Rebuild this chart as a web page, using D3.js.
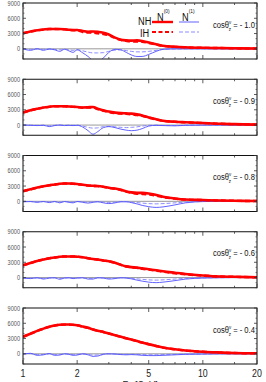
<!DOCTYPE html>
<html lang="en">
	<head>
		<meta charset="utf-8">
		<title>N0 and N1 versus energy</title>

		<script src="https://cdnjs.cloudflare.com/ajax/libs/d3/7.8.5/d3.min.js"></script>

		<style type="text/css">
			html, body {
				margin: 0;
				padding: 0;
				background: white;
			}

			#chart {
				position: absolute;
				left: 0px;
				top: 0px;
			}

			text {
				font-family: "Liberation Sans", Arial, sans-serif;
			}
		</style>
	</head>
	<body>

		<svg id="chart" width="266" height="382"></svg>

		<script type="text/javascript">

			//---------------------------------------------
			// data
			//---------------------------------------------
			var energy = [1, 1.1, 1.2, 1.3, 1.4, 1.5, 1.6, 1.7, 1.8, 1.9, 2.0, 2.15, 2.3, 2.45, 2.6, 2.8, 3.0, 3.25, 3.5, 3.75, 4.0, 4.3, 4.6, 5.0, 5.5, 6, 7, 8, 10, 12.5, 15, 20];

			var cos_labels = ["- 1.0", "- 0.9", "- 0.8", "- 0.6", "- 0.4"];

			var y_ticks = [0, 3000, 6000, 9000];
			var x_ticks = [1, 2, 5, 10, 20];

			// cos = -1.0
			var nh0_a = [3050,3400,3650,3800,3900,3900,3900,3850,3750,3700,3700,3500,3350,3400,3350,3150,2800,2200,1800,1650,1600,1650,1550,1250,900,600,400,300,200,150,100,60];
			var ih0_a = [3050,3380,3630,3780,3880,3880,3870,3820,3720,3660,3620,3300,3200,3150,3050,2900,2650,2150,1750,1550,1450,1450,1400,1150,850,580,390,290,200,150,100,60];
			var nh1_a = [0,-300,0,-300,-50,-200,-500,-100,-400,-700,-200,-800,-1500,-2300,-2500,-1800,-700,-100,-200,-700,-1200,-1500,-1500,-1100,-500,-100,0,0,0,0,0,0];
			var ih1_a = [0,-100,0,-100,0,-100,-200,-50,-200,-300,-150,-400,-650,-800,-800,-750,-500,-250,-200,-350,-500,-600,-600,-500,-300,-100,-30,0,0,0,0,0];

			// cos = -0.9
			var nh0_b = [2450,2900,3200,3450,3600,3700,3700,3700,3650,3600,3550,3450,3500,3550,3200,2900,2650,2450,2350,2300,2250,2100,1900,1500,1150,850,650,550,400,250,180,80];
			var ih0_b = [2450,2880,3180,3430,3580,3680,3680,3680,3630,3580,3520,3400,3430,3450,3120,2820,2550,2350,2250,2200,2100,1950,1800,1450,1100,830,640,540,400,250,180,80];
			var nh1_b = [0,-50,-100,-50,-300,-100,0,-100,-50,-100,-50,-400,-1100,-1800,-1300,-500,-300,-500,-800,-1000,-1100,-1000,-700,-200,-50,-100,-150,-50,0,0,0,0];
			var ih1_b = [0,-30,-50,-30,-150,-50,0,-50,-30,-50,-30,-200,-450,-600,-550,-300,-250,-350,-450,-500,-450,-350,-200,-50,-30,-80,-100,-30,0,0,0,0];

			// cos = -0.8
			var nh0_c = [2000,2350,2700,2950,3150,3300,3450,3500,3500,3450,3400,3250,3100,3050,3000,2850,2650,2500,2250,1950,1750,1650,1650,1550,1250,900,550,350,250,150,100,50];
			var ih0_c = [2000,2340,2690,2940,3140,3290,3440,3490,3490,3440,3380,3230,3080,3030,2980,2830,2630,2470,2220,1920,1700,1500,1450,1350,1100,820,520,340,250,150,100,50];
			var nh1_c = [-100,-50,-200,-50,-250,-50,-300,-50,-200,-300,-50,-200,-350,-200,-100,-300,-450,-300,-100,-100,-250,-500,-800,-1050,-1200,-1100,-700,-300,-50,0,0,0];
			var ih1_c = [-50,-30,-100,-30,-120,-30,-150,-30,-100,-150,-30,-100,-170,-100,-50,-150,-220,-150,-50,-50,-150,-250,-350,-450,-500,-450,-300,-150,-30,0,0,0];

			// cos = -0.6
			var nh0_d = [2400,2850,3250,3550,3800,3950,4100,4150,4150,4150,4100,4000,3800,3650,3550,3350,3200,2900,2500,2200,2050,1950,1800,1650,1450,1250,950,700,400,200,150,50];
			var ih0_d = [2400,2840,3240,3540,3790,3940,4090,4140,4140,4140,4090,3990,3790,3640,3540,3340,3180,2880,2480,2180,2020,1900,1700,1550,1350,1150,850,650,380,200,150,50];
			var nh1_d = [-100,-200,-50,-300,-100,-50,-350,-100,-50,-200,-100,-50,-300,-300,-50,-100,-300,-200,-50,-100,-250,-500,-700,-900,-1000,-900,-600,-300,-100,-30,0,0];
			var ih1_d = [-50,-100,-30,-150,-50,-30,-170,-50,-30,-100,-50,-30,-150,-150,-30,-50,-150,-100,-30,-50,-120,-250,-350,-450,-500,-450,-300,-150,-50,-20,0,0];

			// cos = -0.4
			var nh0_e = [3350,3950,4500,4950,5300,5550,5700,5750,5750,5700,5600,5350,5100,4800,4550,4300,4000,3650,3350,3050,2800,2500,2200,1900,1550,1250,900,650,400,250,150,100];
			var ih0_e = [3340,3940,4490,4940,5290,5540,5690,5740,5740,5690,5590,5340,5090,4790,4540,4290,3990,3640,3340,3040,2790,2490,2190,1880,1530,1230,890,640,400,250,150,100];
			var nh1_e = [-50,100,-300,-200,50,-300,-250,0,-100,-300,-250,0,-200,-500,-450,-100,0,-50,-150,-200,-150,-200,-300,-350,-350,-300,-200,-100,-50,0,0,0];
			var ih1_e = [-30,50,-150,-100,30,-150,-120,0,-50,-150,-120,0,-100,-250,-220,-50,0,-30,-80,-100,-80,-100,-150,-180,-180,-150,-100,-50,-30,0,0,0];

			var panels = [
				{label: cos_labels[0], nh0: nh0_a, ih0: ih0_a, nh1: nh1_a, ih1: ih1_a},
				{label: cos_labels[1], nh0: nh0_b, ih0: ih0_b, nh1: nh1_b, ih1: ih1_b},
				{label: cos_labels[2], nh0: nh0_c, ih0: ih0_c, nh1: nh1_c, ih1: ih1_c},
				{label: cos_labels[3], nh0: nh0_d, ih0: ih0_d, nh1: nh1_d, ih1: ih1_d},
				{label: cos_labels[4], nh0: nh0_e, ih0: ih0_e, nh1: nh1_e, ih1: ih1_e}
			];

			//---------------------------------------------
			// layout
			//---------------------------------------------
			var left = 23, right = 257;
			var first_top = 3, panel_step = 76.25, panel_h = 56;
			var squeeze = 0.8; // the original uses a condensed face

			var red = "#ff0000";
			var blue = "#5050ff";
			var light_blue = "#8c8cff";

			var svg = d3.select("#chart");

			var x = d3.scaleLog().domain([1, 20]).range([left, right]);

			var minor_x = [3, 4, 6, 7, 8, 9, 15];
			var minor_y = d3.range(-2000, 9001, 1000).filter(function (v) { return v % 3000 != 0; });

			// condensed text: place it, then squeeze it horizontally
			function ntext(parent, tx, ty, size, anchor) {
				return parent.append("text")
					.attr("transform", "translate(" + tx + "," + ty + ") scale(" + squeeze + ",1)")
					.attr("text-anchor", anchor || "start")
					.style("font-size", size + "px");
			}

			//---------------------------------------------
			// one panel per cos value
			//---------------------------------------------
			panels.forEach(function (p, i) {

				var top = first_top + i * panel_step;
				var y = d3.scaleLinear().domain([-2000, 9000]).range([top + panel_h, top]);

				var g = svg.append("g").attr("class", "panel");

				g.append("clipPath")
					.attr("id", "clip" + i)
					.append("rect")
					.attr("x", left).attr("y", top)
					.attr("width", right - left).attr("height", panel_h);

				// zero line
				g.append("line")
					.attr("x1", left).attr("x2", right)
					.attr("y1", y(0)).attr("y2", y(0))
					.style("stroke", "#9a9a9a")
					.style("stroke-width", 1);

				var lines = g.append("g").attr("clip-path", "url(#clip" + i + ")");

				function draw(vals, colour, width, dash) {
					var line = d3.line()
						.x(function (d, k) { return x(energy[k]); })
						.y(function (d) { return y(d); })
						.curve(d3.curveMonotoneX);
					lines.append("path")
						.datum(vals)
						.attr("d", line)
						.style("fill", "none")
						.style("stroke", colour)
						.style("stroke-width", width)
						.style("stroke-dasharray", dash);
				}

				draw(p.ih1, light_blue, 1, "4,2");
				draw(p.nh1, blue, 0.9, null);
				draw(p.nh0, red, 2.6, null);
				draw(p.ih0, red, 2.4, "5,3");

				// frame
				g.append("rect")
					.attr("x", left).attr("y", top)
					.attr("width", right - left).attr("height", panel_h)
					.style("fill", "none")
					.style("stroke", "#111")
					.style("stroke-width", 1);

				// y ticks
				y_ticks.forEach(function (v) {
					g.append("line")
						.attr("x1", left).attr("x2", left + 3)
						.attr("y1", y(v)).attr("y2", y(v))
						.style("stroke", "#333").style("stroke-width", 0.8);
					g.append("line")
						.attr("x1", right - 3).attr("x2", right)
						.attr("y1", y(v)).attr("y2", y(v))
						.style("stroke", "#333").style("stroke-width", 0.8);
					ntext(g, left - 3, y(v) + 2.5, 7, "end")
						.style("fill", "#555")
						.text(v);
				});
				minor_y.forEach(function (v) {
					g.append("line")
						.attr("x1", left).attr("x2", left + 1.5)
						.attr("y1", y(v)).attr("y2", y(v))
						.style("stroke", "#333").style("stroke-width", 0.6);
					g.append("line")
						.attr("x1", right - 1.5).attr("x2", right)
						.attr("y1", y(v)).attr("y2", y(v))
						.style("stroke", "#333").style("stroke-width", 0.6);
				});

				// x ticks, top and bottom
				x_ticks.concat(minor_x).forEach(function (v) {
					var len = x_ticks.indexOf(v) >= 0 ? 4 : 2;
					g.append("line")
						.attr("x1", x(v)).attr("x2", x(v))
						.attr("y1", top + panel_h).attr("y2", top + panel_h - len)
						.style("stroke", "#333").style("stroke-width", 0.8);
					g.append("line")
						.attr("x1", x(v)).attr("x2", x(v))
						.attr("y1", top).attr("y2", top + len)
						.style("stroke", "#333").style("stroke-width", 0.8);
				});

				// cos label
				var lab = ntext(g, 213, top + 24.5, 9.5).style("fill", "#111");
				lab.append("tspan").text("cos\u03b8");
				lab.append("tspan").attr("dy", -4).style("font-size", "5.5px").text("\u03bd");
				lab.append("tspan").attr("dx", -3).attr("dy", 7).style("font-size", "5.5px").text("z");
				lab.append("tspan").attr("dy", -3).text(" = " + p.label);
			});

			//---------------------------------------------
			// bottom axis labels
			//---------------------------------------------
			x_ticks.forEach(function (v) {
				ntext(svg, x(v), 377, 11, "middle")
					.style("fill", "#222")
					.text(v);
			});

			ntext(svg, 140, 389, 11, "middle")
				.style("fill", "#222")
				.text("E\u03bd [GeV]");

			//---------------------------------------------
			// legend in the first panel
			//---------------------------------------------
			var legend = svg.append("g").style("fill", "#111");

			ntext(legend, 138, 25, 11.5).text("NH");
			ntext(legend, 140, 36.5, 11.5).text("IH");

			var n0 = ntext(legend, 157, 21, 11.5);
			n0.append("tspan").text("N");
			n0.append("tspan").attr("dy", -8).style("font-size", "6px").text("(0)");

			var n1 = ntext(legend, 182, 21, 11.5);
			n1.append("tspan").text("N");
			n1.append("tspan").attr("dy", -8).style("font-size", "6px").text("(1)");

			var samples = [
				{x1: 152, x2: 173, y: 22, c: red, w: 2.4, dash: null},
				{x1: 152, x2: 173, y: 32, c: red, w: 2.2, dash: "4,2.5"},
				{x1: 179, x2: 199, y: 22, c: blue, w: 0.9, dash: null},
				{x1: 179, x2: 199, y: 32, c: light_blue, w: 1, dash: "4,2"}
			];
			samples.forEach(function (s) {
				legend.append("line")
					.attr("x1", s.x1).attr("x2", s.x2)
					.attr("y1", s.y).attr("y2", s.y)
					.style("stroke", s.c)
					.style("stroke-width", s.w)
					.style("stroke-dasharray", s.dash);
			});

		</script>
	</body>
</html>
